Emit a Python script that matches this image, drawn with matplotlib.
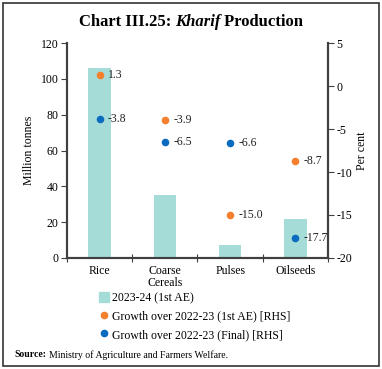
import matplotlib.pyplot as plt
import numpy as np
from matplotlib.lines import Line2D
from matplotlib.patches import Patch, Rectangle

categories = ["Rice", "Coarse\nCereals", "Pulses", "Oilseeds"]
production = [106.3, 35.4, 7.1, 21.5]
growth_1st_ae = [1.3, -3.9, -15.0, -8.7]
growth_final = [-3.8, -6.5, -6.6, -17.7]

bar_color = "#a6dcd8"
orange = "#f47f2f"
blue = "#0b6cbf"
spine_color = "#404040"

plt.rcParams["font.family"] = ["Liberation Serif", "DejaVu Serif"]
plt.rcParams["axes.unicode_minus"] = False

fig = plt.figure(figsize=(3.82, 3.69), dpi=100)
ax = fig.add_axes([0.175, 0.301, 0.684, 0.582])
ax2 = ax.twinx()

x = np.arange(len(categories))
ax.bar(x, production, width=0.34, color=bar_color, zorder=1)
ax.set_xlim(-0.5, 3.5)
ax.set_ylim(0, 120)
ax.set_yticks(np.arange(0, 121, 20))
ax.set_xticks(np.arange(-0.5, 3.6, 1))
ax.set_xticklabels([])
ax.set_xticks(x, minor=True)
ax.set_xticklabels(categories, minor=True, fontsize=8.5, linespacing=1.0)
ax.tick_params(axis="x", which="minor", length=0, pad=5)
ax.tick_params(axis="x", which="major", direction="inout", length=6, color=spine_color)
ax.tick_params(axis="y", direction="out", length=4, labelsize=8.5, color=spine_color, pad=2)
ax.set_ylabel("Million tonnes", fontsize=8.5, labelpad=4)

ax2.set_ylim(-20, 5)
ax2.set_yticks(np.arange(-20, 6, 5))
ax2.tick_params(axis="y", direction="out", length=4, labelsize=8.5, color=spine_color, pad=2)
ax2.set_ylabel("Per cent", fontsize=8.5, labelpad=3)

ax2.scatter(x, growth_1st_ae, s=30, color=orange, zorder=3, linewidths=0)
ax2.scatter(x, growth_final, s=30, color=blue, zorder=3, linewidths=0)
for xi, v in zip(x, growth_1st_ae):
    ax2.annotate(f"{v:.1f}", (xi, v), xytext=(6, 0), textcoords="offset points",
                 va="center", fontsize=8.5, color="#222222")
for xi, v in zip(x, growth_final):
    ax2.annotate(f"{v:.1f}", (xi, v), xytext=(6, 0), textcoords="offset points",
                 va="center", fontsize=8.5, color="#222222")

for a in (ax, ax2):
    a.spines["top"].set_visible(False)
    for s in ("left", "right", "bottom"):
        a.spines[s].set_color(spine_color)
        a.spines[s].set_linewidth(1.5)

handles = [
    Patch(color=bar_color, label="2023-24 (1st AE)"),
    Line2D([], [], marker="o", ls="", color=orange, markersize=4.5,
           label="Growth over 2022-23 (1st AE) [RHS]"),
    Line2D([], [], marker="o", ls="", color=blue, markersize=4.5,
           label="Growth over 2022-23 (Final) [RHS]"),
]
fig.legend(handles=handles, loc="upper left", bbox_to_anchor=(0.245, 0.225),
           frameon=False, fontsize=8.5, handlelength=0.8, handletextpad=0.3,
           labelspacing=0.55, borderpad=0, handleheight=0.9)

# title in pieces: bold + bold italic
fig.canvas.draw()
r = fig.canvas.get_renderer()
parts = [("Chart III.25: ", "normal"), ("Kharif", "italic"), (" Production", "normal")]
texts = []
for s, st in parts:
    t = fig.text(0, 0.94, s, fontsize=12, fontweight="bold", style=st, va="center")
    texts.append(t)
widths = [t.get_window_extent(r).width for t in texts]
total = sum(widths)
xpos = 0.5 * fig.bbox.width - total / 2
for t, w in zip(texts, widths):
    t.set_x(xpos / fig.bbox.width)
    xpos += w

src = fig.text(0.037, 0.038, "Source:", fontsize=7, fontweight="bold", va="center")
w = src.get_window_extent(r).width
fig.text(0.037 + (w + 3) / fig.bbox.width, 0.038,
         "Ministry of Agriculture and Farmers Welfare.", fontsize=7, va="center")

fig.patches.append(Rectangle((0.008, 0.008), 0.984, 0.984, transform=fig.transFigure,
                             fill=False, edgecolor="#333333", linewidth=1.2))

fig.savefig("out.png", dpi=100)
